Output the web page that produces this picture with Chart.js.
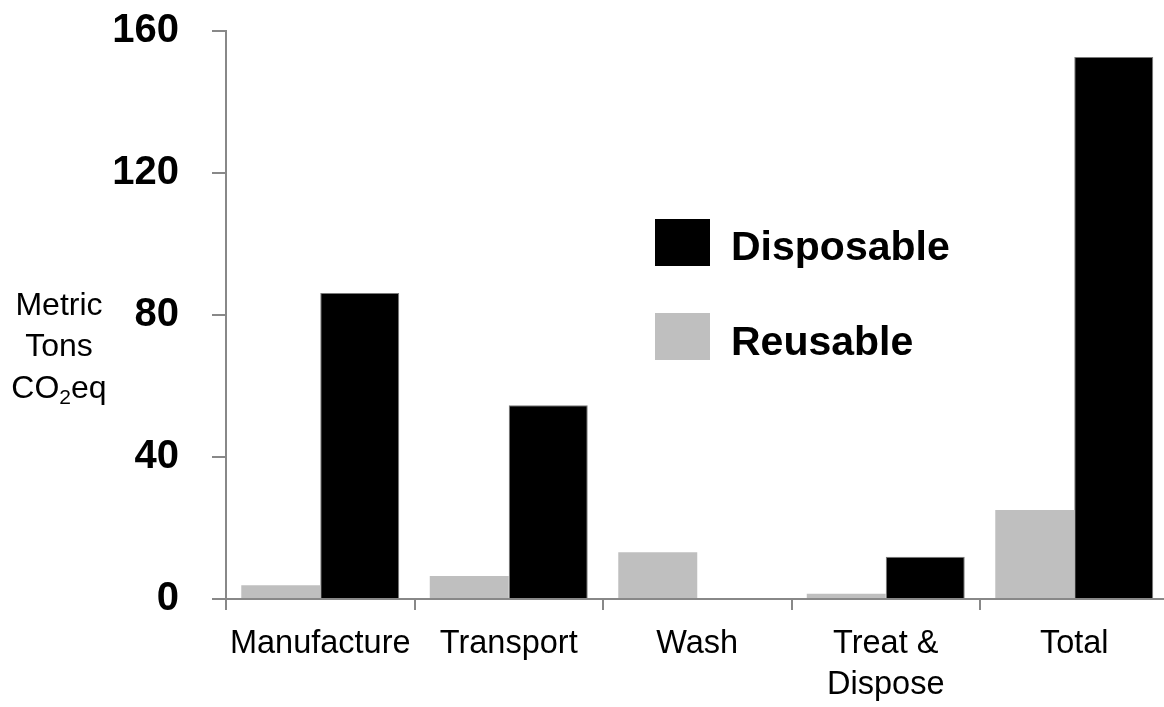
<!DOCTYPE html>
<html>
<head>
<meta charset="utf-8">
<script src="https://cdn.jsdelivr.net/npm/chart.js@4.4.1/dist/chart.umd.min.js"></script>
<style>
  html, body { margin: 0; padding: 0; background: #fff; overflow: hidden; }
  #wrap { width: 1164px; height: 707px; overflow: hidden; position: relative; }
  canvas { display: block; }
</style>
</head>
<body>
<div id="wrap"><canvas id="c" width="1172" height="707"></canvas></div>
<script>
// ---- data ----
const categories = ["Manufacture", "Transport", "Wash", ["Treat &", "Dispose"], "Total"];
const reusable   = [3.9, 6.5, 13.2, 1.5, 25.1];
const disposable = [86.2, 54.6, 0, 11.9, 152.7];
const yTicks     = [0, 40, 80, 120, 160];
const seriesNames = ["Disposable", "Reusable"];
const yTitleLines = ["Metric", "Tons", "CO2eq"];

const AXIS = '#888888';
const GRAY = '#bfbfbf';

const overlay = {
  id: 'overlay',
  afterDraw(chart) {
    const ctx = chart.ctx;
    ctx.save();
    // Y title (horizontal, three lines)
    ctx.fillStyle = '#000';
    ctx.textBaseline = 'alphabetic';
    const cx = 59;
    const base = [315, 356, 398];
    const bigF = '32px "Liberation Sans", Arial, sans-serif';
    const smallF = '21px "Liberation Sans", Arial, sans-serif';
    ctx.font = bigF;
    ctx.textAlign = 'center';
    ctx.fillText(yTitleLines[0], cx, base[0]);
    ctx.fillText(yTitleLines[1], cx, base[1]);
    // CO2eq with subscript 2
    ctx.font = bigF; const w1 = ctx.measureText('CO').width; const w3 = ctx.measureText('eq').width;
    ctx.font = smallF; const w2 = ctx.measureText('2').width;
    let x = cx - (w1 + w2 + w3) / 2;
    ctx.textAlign = 'left';
    ctx.font = bigF; ctx.fillText('CO', x, base[2]); x += w1;
    ctx.font = smallF; ctx.fillText('2', x, base[2] + 6); x += w2;
    ctx.font = bigF; ctx.fillText('eq', x, base[2]);

    // Legend
    const items = [
      { name: seriesNames[0], color: '#000000', boxY: 219, textY: 260 },
      { name: seriesNames[1], color: GRAY, boxY: 313, textY: 355 }
    ];
    ctx.font = 'bold 41px "Liberation Sans", Arial, sans-serif';
    items.forEach(it => {
      ctx.fillStyle = it.color;
      ctx.fillRect(655, it.boxY, 55, 47);
      ctx.fillStyle = '#000';
      ctx.fillText(it.name, 731, it.textY);
    });
    ctx.restore();
  }
};

new Chart(document.getElementById('c'), {
  type: 'bar',
  data: {
    labels: categories,
    datasets: [
      { label: seriesNames[1], data: reusable, backgroundColor: GRAY, borderWidth: 0 },
      { label: seriesNames[0], data: disposable, backgroundColor: '#000000', borderColor: '#7a7a7a', borderWidth: 1 }
    ]
  },
  options: {
    responsive: false,
    devicePixelRatio: 1,
    animation: false,
    events: [],
    datasets: { bar: { categoryPercentage: 0.838, barPercentage: 1.0 } },
    layout: { padding: { left: 0, right: 3.5, top: 31, bottom: 0 } },
    plugins: { legend: { display: false }, tooltip: { enabled: false }, title: { display: false } },
    scales: {
      x: {
        offset: true,
        grid: { offset: true, drawOnChartArea: false, drawTicks: true, tickLength: 11, color: AXIS, lineWidth: 2 },
        border: { color: AXIS, width: 2 },
        ticks: {
          color: '#000', padding: 14, maxRotation: 0, autoSkip: false,
          font: { family: '"Liberation Sans", Arial, sans-serif', size: 32.5, lineHeight: '41px' }
        },
        afterFit(s) { s.height = 108; s.paddingLeft = 0; s.paddingRight = 0; }
      },
      y: {
        min: 0, max: 160,
        afterBuildTicks(s) { s.ticks = yTicks.map(v => ({ value: v })); },
        grid: { drawOnChartArea: false, drawTicks: true, tickLength: 14, color: AXIS, lineWidth: 2 },
        border: { color: AXIS, width: 2 },
        ticks: {
          color: '#000', padding: 33,
          font: { family: '"Liberation Sans", Arial, sans-serif', size: 40, weight: 'bold' }
        },
        afterFit(s) { s.width = 226; s.paddingTop = 0; s.paddingBottom = 0; }
      }
    }
  },
  plugins: [overlay]
});
</script>
</body>
</html>
